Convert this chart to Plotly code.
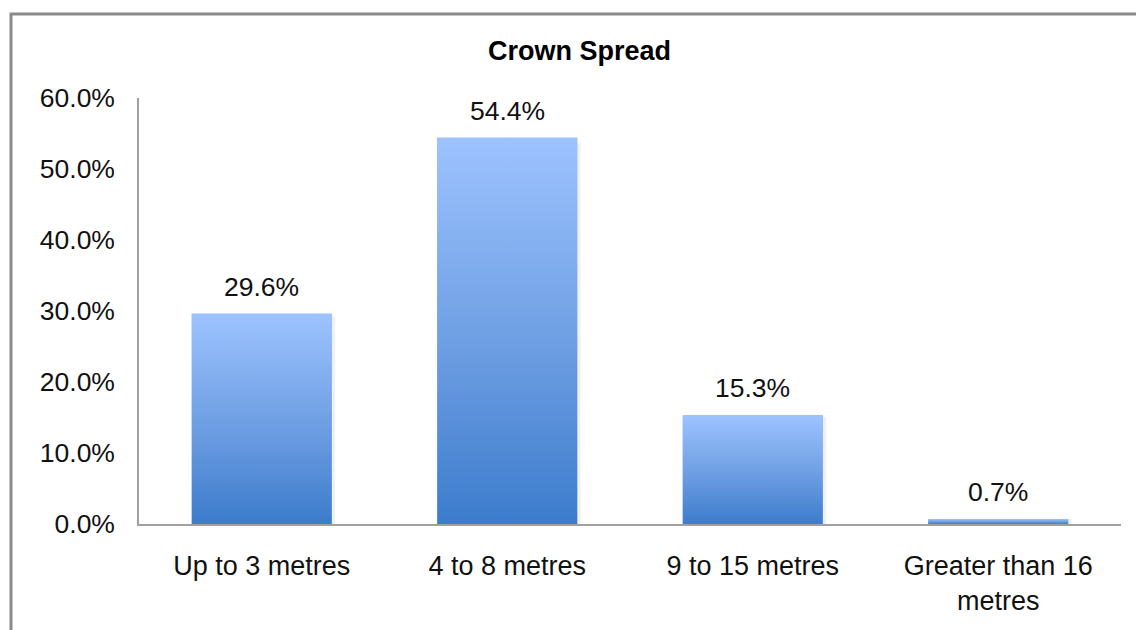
import plotly.graph_objects as go

# Crown spread distribution (percentage of trees)
categories = ["Up to 3 metres", "4 to 8 metres", "9 to 15 metres", "Greater than 16<br>metres"]
shares = [29.6, 54.4, 15.3, 0.7]
y_ticks = [0, 10, 20, 30, 40, 50, 60]

FONT = "Liberation Sans, Arial, sans-serif"
BAR_W = 0.57
TOP_BLUE = "#9dc3ff"
MID_BLUE = "#78a6ec"
LOW_BLUE = "#3c7ccc"
AXIS_GREY = "#a0a0a0"

positions = list(range(len(categories)))

fig = go.Figure()

# base bars (solid fill, covered by the gradient overlay)
fig.add_trace(go.Bar(
    x=positions, y=shares, width=BAR_W,
    marker=dict(color=MID_BLUE, line=dict(width=0)),
    hoverinfo="skip", showlegend=False,
))

# soft shadow on the right edge and gradient face of each bar
for i, v in zip(positions, shares):
    x0, x1 = i - BAR_W / 2, i + BAR_W / 2
    sx = 0.014
    fig.add_trace(go.Scatter(
        x=[x1, x1 + sx, x1 + sx, x1, x1],
        y=[0, 0, v * 0.985, v * 0.985, 0],
        mode="lines", fill="toself", line=dict(width=0),
        fillcolor="rgba(0,0,0,0.06)",
        hoverinfo="skip", showlegend=False,
    ))
    fig.add_trace(go.Scatter(
        x=[x0, x1, x1, x0, x0],
        y=[0, 0, v, v, 0],
        mode="lines", fill="toself", line=dict(width=0),
        fillgradient=dict(
            type="vertical",
            colorscale=[[0, LOW_BLUE], [0.45, "#6c9de2"], [1, TOP_BLUE]],
        ),
        hoverinfo="skip", showlegend=False,
    ))
    fig.add_annotation(
        x=i, y=v, text=f"{v:.1f}%", showarrow=False,
        xref="x", yref="y", yanchor="bottom", yshift=10,
        font=dict(family=FONT, size=26.5, color="#111111"),
    )

# chart title
fig.add_annotation(
    x=(579 - 139) / 982, y=(524 - 51) / 426, xref="paper", yref="paper",
    text="<b>Crown Spread</b>", showarrow=False, yanchor="middle",
    font=dict(family=FONT, size=27, color="#000000"),
)

# outer chart frame
fig.add_shape(
    type="rect", xref="paper", yref="paper",
    x0=(11 - 139) / 982, x1=(1145 - 139) / 982,
    y0=(524 - 660) / 426, y1=(524 - 14) / 426,
    line=dict(color="#8a8a8a", width=3), fillcolor="rgba(0,0,0,0)",
    layer="below",
)

fig.update_layout(
    width=1136, height=630,
    margin=dict(l=139, r=15, t=98, b=106),
    paper_bgcolor="white", plot_bgcolor="white",
    font=dict(family=FONT, size=27, color="#111111"),
    bargap=0.43,
    xaxis=dict(
        range=[-0.5, 3.5], tickmode="array", tickvals=positions, ticktext=categories,
        showline=True, linecolor=AXIS_GREY, linewidth=1.5,
        showgrid=False, zeroline=False, ticks="", ticklabelstandoff=17,
        tickfont=dict(family=FONT, size=27, color="#111111"),
        fixedrange=True,
    ),
    yaxis=dict(
        range=[0, 60], tickmode="array", tickvals=y_ticks,
        ticktext=[f"{t:.1f}%" for t in y_ticks],
        showline=True, linecolor=AXIS_GREY, linewidth=1.5,
        showgrid=False, zeroline=False, ticks="", ticklabelstandoff=17,
        tickfont=dict(family=FONT, size=26.5, color="#111111"),
        fixedrange=True,
    ),
)

fig.write_html("out.html")
